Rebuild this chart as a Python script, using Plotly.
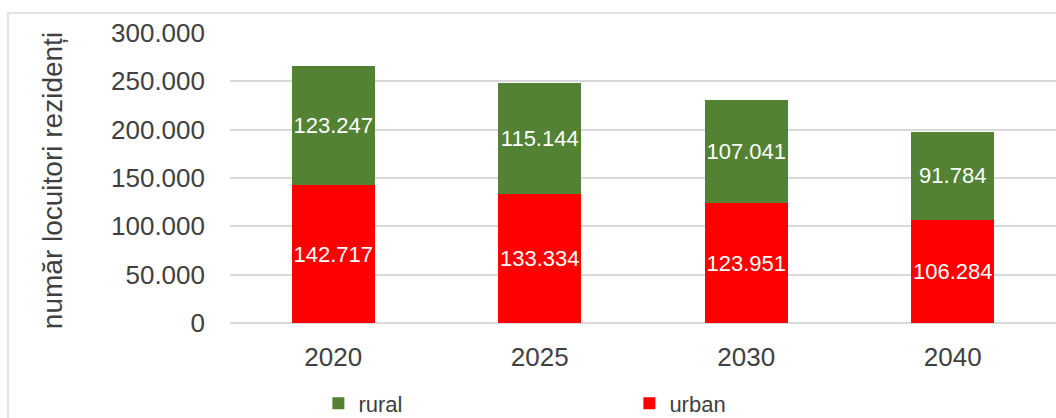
import plotly.graph_objects as go

years = ["2020", "2025", "2030", "2040"]
urban = [142717, 133334, 123951, 106284]
rural = [123247, 115144, 107041, 91784]

GREEN = "#548235"
RED = "#ff0000"
FONT = "Liberation Sans, Arial, sans-serif"

fig = go.Figure()
for name, vals, color in [("urban", urban, RED), ("rural", rural, GREEN)]:
    fig.add_trace(go.Bar(
        x=years, y=vals, name=name, marker=dict(color=color, line=dict(width=0)),
        texttemplate="%{y:,.0f}", textposition="inside", insidetextanchor="middle",
        textangle=0, constraintext="none",
        textfont=dict(color="white", size=22, family=FONT), width=0.4,
    ))

fig.update_layout(
    barmode="stack",
    separators=",.",
    width=1056, height=418,
    margin=dict(l=230, r=0, t=33, b=95, autoexpand=False),
    paper_bgcolor="white", plot_bgcolor="white",
    font=dict(family=FONT, color="#404040", size=24),
    xaxis=dict(showgrid=False, showline=False, ticks="", ticklabelstandoff=16,
               automargin=False, tickfont=dict(size=26, color="#404040")),
    yaxis=dict(range=[0, 300000], dtick=50000, tickformat=",.0f", automargin=False,
               gridcolor="#d9d9d9", gridwidth=1.5, zeroline=True, zerolinecolor="#d9d9d9",
               zerolinewidth=1.5, ticks="", ticklabelstandoff=24,
               tickfont=dict(size=26, color="#404040")),
    showlegend=True,
    legend=dict(orientation="h", traceorder="reversed", x=0.107, xanchor="left",
                yref="container", y=0.035, yanchor="middle", entrywidth=266,
                entrywidthmode="pixels",
                font=dict(size=22, color="#404040"), bgcolor="rgba(0,0,0,0)"),
    annotations=[dict(text="număr locuitori rezidenți", textangle=-90, x=-0.214, y=0.49,
                      xref="paper", yref="paper", xanchor="center", yanchor="middle",
                      showarrow=False, font=dict(size=28, color="#404040"))],
    shapes=[dict(type="rect", xref="paper", yref="paper", x0=-0.2688, x1=1.01,
                 y0=-0.4, y1=1.069, line=dict(color="#d9d9d9", width=1.5),
                 fillcolor="rgba(0,0,0,0)", layer="below")],
)

fig.write_html("out.html", config={"displayModeBar": False},
               post_script="document.body.style.margin='0';")
